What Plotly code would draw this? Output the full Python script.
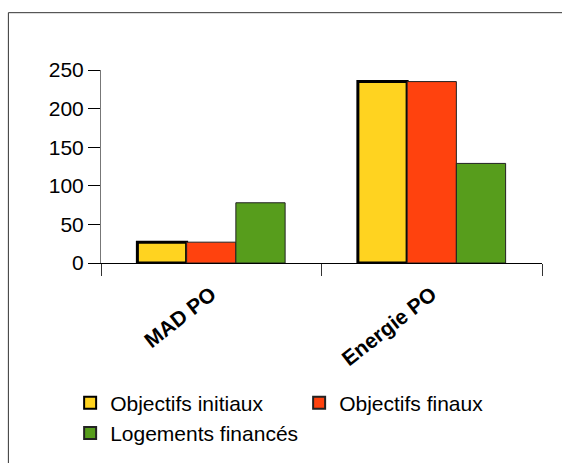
import plotly.graph_objects as go

categories = ["MAD PO", "Energie PO"]
series_names = ["Objectifs initiaux", "Objectifs finaux", "Logements financés"]
objectifs_initiaux = [27, 235]
objectifs_finaux = [27, 235]
logements_finances = [78, 129]
y_ticks = [0, 50, 100, 150, 200, 250]

colors = ["#FFD320", "#FF420E", "#579D1C"]
line_widths = [3, 1, 1]
line_colors = ["#000000", "#222222", "#222222"]

fig = go.Figure()
for name, vals, c, lw, lc in zip(series_names,
                                 [objectifs_initiaux, objectifs_finaux, logements_finances],
                                 colors, line_widths, line_colors):
    fig.add_trace(go.Bar(name=name, x=categories, y=vals,
                         marker=dict(color=c, line=dict(color=lc, width=lw))))

FONT = "Liberation Sans, Arial, sans-serif"
fig.update_layout(
    width=562, height=463,
    margin=dict(l=101, r=20, t=70, b=200, autoexpand=False),
    paper_bgcolor="white", plot_bgcolor="white",
    barmode="group", bargap=0.33, bargroupgap=0,
    font=dict(family=FONT, size=20, color="black"),
    showlegend=True,
    legend=dict(orientation="h", x=-0.07, y=-0.62, xanchor="left", yanchor="top",
                entrywidth=184, entrywidthmode="pixels",
                font=dict(family=FONT, size=21, color="black"),
                itemsizing="constant", tracegroupgap=0, bgcolor="rgba(0,0,0,0)"),
    xaxis=dict(showline=True, linecolor="black", linewidth=1,
               ticks="outside", tickson="boundaries", ticklen=12, tickcolor="#333",
               ticklabelstandoff=10,
               tickangle=-38, tickfont=dict(family=FONT, size=21, color="black", weight="bold"),
               showgrid=False, zeroline=False),
    yaxis=dict(range=[0, 250], tickvals=y_ticks, showline=True, linecolor="#777", linewidth=1,
               ticks="outside", ticklen=12, tickcolor="black",
               tickfont=dict(family=FONT, size=21, color="black"),
               showgrid=False, zeroline=False),
)

# outer frame (extends beyond the window at right/bottom)
fig.add_shape(type="rect", xref="paper", yref="paper",
              x0=-0.210, x1=1.3, y0=-1.5, y1=1.297,
              line=dict(color="#333", width=1), fillcolor="rgba(0,0,0,0)", layer="below")

fig.write_html("out.html", config={"displayModeBar": False},
               post_script="document.body.style.margin='0';document.body.style.overflow='hidden';")
